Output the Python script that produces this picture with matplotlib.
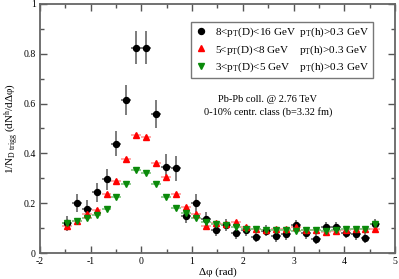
import numpy as np
import matplotlib
matplotlib.use("Agg")
import matplotlib.pyplot as plt

plt.rcParams['font.family'] = ['Liberation Serif', 'DejaVu Serif']
plt.rcParams['mathtext.fontset'] = 'custom'
plt.rcParams['mathtext.rm'] = 'Liberation Serif'
plt.rcParams['mathtext.it'] = 'Liberation Serif:italic'
plt.rcParams['axes.unicode_minus'] = False

# bin centres in delta phi (32 bins from -pi/2 to 3pi/2)
dphi = np.array([-1.473, -1.276, -1.080, -0.884, -0.687, -0.491, -0.295, -0.098,
                 0.098, 0.295, 0.491, 0.687, 0.884, 1.080, 1.276, 1.473,
                 1.669, 1.865, 2.062, 2.258, 2.454, 2.651, 2.847, 3.043,
                 3.240, 3.436, 3.633, 3.829, 4.025, 4.222, 4.418, 4.614])
dphi_err = 0.098

# 8 < pT(D) < 16 GeV
y_high = [0.12, 0.200, 0.177, 0.244, 0.297, 0.438, 0.614, 0.824,
          0.824, 0.558, 0.347, 0.341, 0.149, 0.200, 0.137, 0.092,
          0.112, 0.080, 0.091, 0.066, 0.090, 0.068, 0.076, 0.112,
          0.079, 0.055, 0.103, 0.103, 0.082, 0.075, 0.062, 0.115]
e_high = [0.03, 0.037, 0.034, 0.038, 0.042, 0.050, 0.060, 0.067,
          0.067, 0.057, 0.050, 0.050, 0.030, 0.038, 0.028, 0.022,
          0.025, 0.022, 0.022, 0.022, 0.022, 0.022, 0.022, 0.022,
          0.022, 0.020, 0.022, 0.022, 0.022, 0.022, 0.020, 0.022]

# 5 < pT(D) < 8 GeV
y_mid = [0.108, 0.130, 0.157, 0.173, 0.236, 0.289, 0.376, 0.474,
         0.467, 0.363, 0.306, 0.237, 0.184, 0.157, 0.110, 0.122,
         0.118, 0.126, 0.104, 0.096, 0.094, 0.095, 0.096, 0.104,
         0.094, 0.092, 0.086, 0.090, 0.092, 0.095, 0.096, 0.098]
e_mid = [0.008] * 32

# 3 < pT(D) < 5 GeV
y_low = [0.119, 0.128, 0.139, 0.153, 0.175, 0.224, 0.277, 0.333,
         0.320, 0.277, 0.224, 0.179, 0.162, 0.142, 0.126, 0.115,
         0.112, 0.104, 0.098, 0.096, 0.094, 0.094, 0.094, 0.090,
         0.094, 0.092, 0.090, 0.094, 0.096, 0.097, 0.096, 0.116]
e_low = [0.006] * 32

labels = ['8<p$_\\mathrm{T}$(D)<16 GeV  p$_\\mathrm{T}$(h)>0.3 GeV',
          '5<p$_\\mathrm{T}$(D)<8 GeV    p$_\\mathrm{T}$(h)>0.3 GeV',
          '3<p$_\\mathrm{T}$(D)<5 GeV    p$_\\mathrm{T}$(h)>0.3 GeV']

fig = plt.figure(figsize=(3.99, 2.79), dpi=100)
ax = fig.add_axes([0.100, 0.093, 0.890, 0.893])

eb1 = ax.errorbar(dphi, y_high, xerr=dphi_err, yerr=e_high, fmt='o', color='black',
                  ecolor='#666666', elinewidth=1.2, markersize=4.3, capsize=0)
eb2 = ax.errorbar(dphi, y_mid, xerr=dphi_err, yerr=e_mid, fmt='^', color='red',
                  ecolor='#ff9a9a', elinewidth=1.2, markersize=4.3, capsize=0)
eb3 = ax.errorbar(dphi, y_low, xerr=dphi_err, yerr=e_low, fmt='v', color='#0a8a0a',
                  ecolor='#7fc47f', elinewidth=1.2, markersize=4.3, capsize=0)

ax.set_xlim(-2, 5)
ax.set_ylim(0, 1)
ax.set_xticks(np.arange(-2, 6, 1))
ax.set_xticks(np.arange(-2, 5.01, 0.5), minor=True)
ax.set_yticks([0, 0.2, 0.4, 0.6, 0.8, 1])
ax.set_yticklabels(['0', '0.2', '0.4', '0.6', '0.8', '1'])
ax.set_yticks(np.arange(0, 1.01, 0.1), minor=True)
ax.tick_params(which='both', direction='in', top=True, right=True,
               labelsize=7, color='#555555', pad=3)
ax.tick_params(which='major', length=5, width=1)
ax.tick_params(which='minor', length=3, width=1)
for s in ax.spines.values():
    s.set_color('#666666')
    s.set_linewidth(1.3)

ax.set_xlabel('Δφ (rad)', fontsize=8, labelpad=1)
ax.set_ylabel('1/N$_\\mathrm{D\\ trigg}$ (dN$^\\mathrm{h}$/dΔφ)', fontsize=8, labelpad=2)

# legend shows only the markers
leg = ax.legend([eb1[0], eb2[0], eb3[0]], labels,
                loc='upper right', bbox_to_anchor=(0.938, 0.928), borderaxespad=0,
                fontsize=8, frameon=True, fancybox=False, handlelength=1,
                handletextpad=0.8, labelspacing=0.35, borderpad=0.35)
leg.get_frame().set_edgecolor('#555555')
leg.get_frame().set_linewidth(1)

ax.text(0.642, 0.618, 'Pb-Pb coll. @ 2.76 TeV', transform=ax.transAxes,
        ha='center', va='center', fontsize=7.5)
ax.text(0.642, 0.566, '0-10% centr. class (b=3.32 fm)', transform=ax.transAxes,
        ha='center', va='center', fontsize=7.5)

fig.savefig('out.png', dpi=100)
